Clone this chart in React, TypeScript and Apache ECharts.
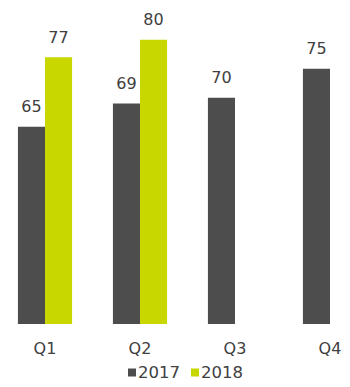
import React, { useEffect, useRef } from "react";
import * as echarts from "echarts";

const categories = ["Q1", "Q2", "Q3", "Q4"];
const series2017 = [65, 69, 70, 75];
const series2018: (number | null)[] = [77, 80, null, null];
const seriesNames = ["2017", "2018"];

export default function App() {
  const ref = useRef<HTMLDivElement>(null);
  useEffect(() => {
    if (!ref.current) return;
    const chart = echarts.init(ref.current, undefined, { renderer: "svg" });
    const font = "DejaVu Sans, Verdana, sans-serif";
    const label = {
      show: true,
      position: "top" as const,
      distance: 12,
      color: "#404040",
      fontSize: 16,
      fontFamily: font,
    };
    chart.setOption({
      animation: false,
      backgroundColor: "#ffffff",
      grid: {
        left: -2.5,
        width: 380,
        top: 10.8,
        bottom: 63,
        containLabel: false,
        outerBoundsMode: "none",
      },
      legend: {
        bottom: 1,
        left: 123,
        itemWidth: 8,
        itemHeight: 8,
        itemGap: 11,
        icon: "rect",
        textStyle: { color: "#404040", fontSize: 16.5, fontFamily: font, padding: [0, 0, 0, -3] },
        data: seriesNames,
      },
      xAxis: {
        type: "category",
        data: categories,
        axisLine: { show: false },
        axisTick: { show: false },
        axisLabel: { color: "#404040", fontSize: 16, fontFamily: font, margin: 16 },
      },
      yAxis: {
        type: "value",
        min: 31,
        max: 85,
        show: false,
        splitLine: { show: false },
      },
      series: [
        {
          name: seriesNames[0],
          type: "bar",
          data: series2017,
          barGap: "0%",
          barCategoryGap: "43%",
          itemStyle: { color: "#4d4d4d" },
          label,
        },
        {
          name: seriesNames[1],
          type: "bar",
          data: series2018,
          itemStyle: { color: "#c8d700" },
          label,
        },
      ],
    });
    return () => chart.dispose();
  }, []);
  return (
    <div
      ref={ref}
      style={{ position: "absolute", left: 0, top: 0, width: 350, height: 387 }}
    />
  );
}
